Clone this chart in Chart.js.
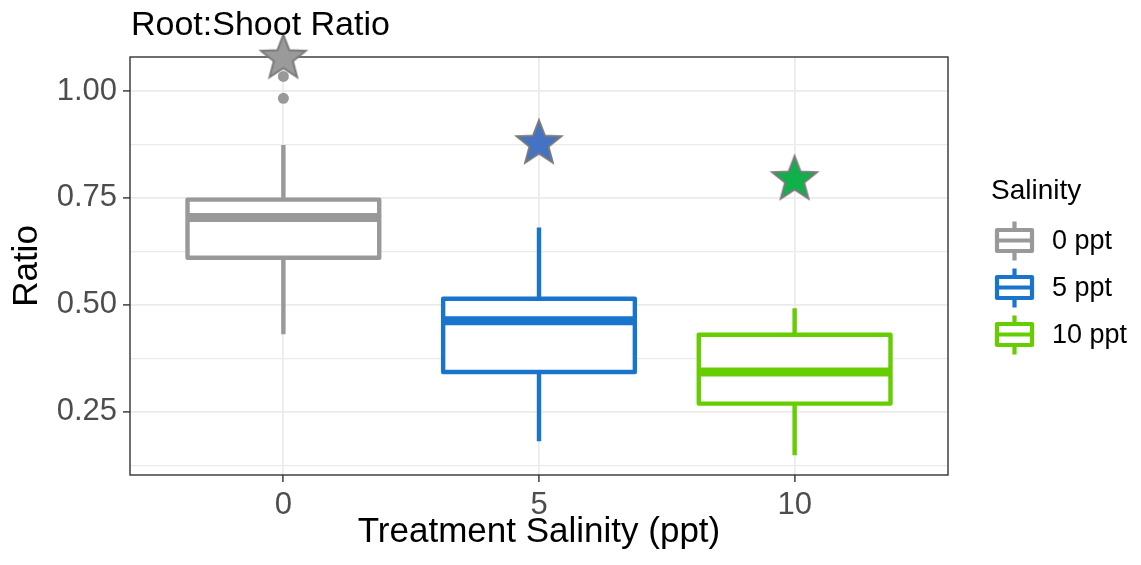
<!DOCTYPE html>
<html>
<head>
<meta charset="utf-8">
<script src="https://cdn.jsdelivr.net/npm/chart.js@4.4.1/dist/chart.umd.min.js"></script>
<style>
  html, body { margin: 0; padding: 0; background: #fff; }
  #wrap { width: 1141px; height: 565px; }
</style>
</head>
<body>
<div id="wrap"><canvas id="ratioChart" width="1141" height="565"></canvas></div>
<script>
// values
const salinityLevels = ['0', '5', '10'];
const legendLabels = ['0 ppt', '5 ppt', '10 ppt'];
const boxColors = ['#999999', '#1874CD', '#66CD00'];
const starColors = ['#9a9a9a', '#4472C4', '#10B04A'];

const whiskerLow = [0.431, 0.181, 0.148];
const lowerHinge = [0.610, 0.343, 0.269];
const medians = [0.704, 0.463, 0.343];
const upperHinge = [0.746, 0.514, 0.430];
const whiskerHigh = [0.874, 0.681, 0.492];
const outliers = [[0.983, 1.034], [], []];
const starValues = [1.078, 0.878, 0.794];

const yMajorTicks = [0.25, 0.5, 0.75, 1.0];
const yMinorTicks = [0.125, 0.375, 0.625, 0.875];

const FONT = '"Liberation Sans", Arial, sans-serif';

// star marker as an image so Chart.js can use it as a pointStyle
function makeStar(fill) {
    const c = document.createElement('canvas');
    c.width = 54;
    c.height = 54;
    const g = c.getContext('2d');
    const R = 23.5, r = 10, cx = 27, cy = 27.5;
    g.beginPath();
    for (let i = 0; i < 10; i++) {
        const rad = i % 2 === 0 ? R : r;
        const a = -Math.PI / 2 + i * Math.PI / 5;
        const px = cx + rad * Math.cos(a), py = cy + rad * Math.sin(a);
        if (i === 0) g.moveTo(px, py); else g.lineTo(px, py);
    }
    g.closePath();
    g.fillStyle = fill;
    g.fill();
    g.lineWidth = 2;
    g.strokeStyle = '#7a7a7a';
    g.stroke();
    return c;
}

// boxes + whiskers, drawn through the chart scales
const boxPlotPlugin = {
    id: 'boxPlot',
    beforeDatasetsDraw(chart) {
        const { ctx, chartArea, scales: { x, y } } = chart;
        ctx.save();
        // panel border
        ctx.strokeStyle = '#333333';
        ctx.lineWidth = 1.4;
        ctx.strokeRect(chartArea.left, chartArea.top, chartArea.right - chartArea.left, chartArea.bottom - chartArea.top);

        salinityLevels.forEach((lvl, i) => {
            const cx = x.getPixelForValue(i);
            const left = x.getPixelForValue(i - 0.375);
            const right = x.getPixelForValue(i + 0.375);
            const yLow = y.getPixelForValue(whiskerLow[i]);
            const yQ1 = y.getPixelForValue(lowerHinge[i]);
            const yMed = y.getPixelForValue(medians[i]);
            const yQ3 = y.getPixelForValue(upperHinge[i]);
            const yHigh = y.getPixelForValue(whiskerHigh[i]);

            ctx.strokeStyle = boxColors[i];
            ctx.lineCap = 'butt';
            ctx.lineWidth = 4.4;
            ctx.beginPath();
            ctx.moveTo(cx, yQ3); ctx.lineTo(cx, yHigh);
            ctx.moveTo(cx, yQ1); ctx.lineTo(cx, yLow);
            ctx.stroke();

            ctx.lineJoin = 'round';
            ctx.fillStyle = '#ffffff';
            ctx.fillRect(left, yQ3, right - left, yQ1 - yQ3);
            ctx.strokeRect(left, yQ3, right - left, yQ1 - yQ3);

            ctx.lineWidth = 9;
            ctx.beginPath();
            ctx.moveTo(left, yMed); ctx.lineTo(right, yMed);
            ctx.stroke();
        });
        ctx.restore();
    },
    afterDraw(chart) {
        const { ctx, chartArea } = chart;
        ctx.save();
        // plot title
        ctx.fillStyle = '#000000';
        ctx.textAlign = 'left';
        ctx.textBaseline = 'alphabetic';
        ctx.font = '34px ' + FONT;
        ctx.fillText('Root:Shoot Ratio', chartArea.left + 1, 35);

        // legend
        ctx.font = '28px ' + FONT;
        ctx.fillText('Salinity', 991, 199);
        legendLabels.forEach((lab, i) => {
            const cy = 240.5 + i * 47;
            const l = 997, r = 1032, cx = (l + r) / 2;
            ctx.strokeStyle = boxColors[i];
            ctx.lineWidth = 4.2;
            ctx.lineCap = 'butt';
            ctx.beginPath();
            ctx.moveTo(cx, cy - 19); ctx.lineTo(cx, cy - 10.5);
            ctx.moveTo(cx, cy + 10.5); ctx.lineTo(cx, cy + 20);
            ctx.stroke();
            ctx.lineJoin = 'round';
            ctx.strokeRect(l, cy - 10.5, r - l, 21);
            ctx.beginPath();
            ctx.moveTo(l, cy); ctx.lineTo(r, cy);
            ctx.stroke();
            ctx.fillStyle = '#000000';
            ctx.font = '27px ' + FONT;
            ctx.textBaseline = 'middle';
            ctx.fillText(lab, 1052, cy + 1);
        });
        ctx.restore();
    }
};

const outlierPoints = [];
outliers.forEach((vals, i) => vals.forEach(v => outlierPoints.push({ x: i, y: v })));

const ctx = document.getElementById('ratioChart').getContext('2d');
new Chart(ctx, {
    type: 'scatter',
    data: {
        datasets: [
            {
                label: 'outliers',
                data: outlierPoints,
                pointRadius: 5.5,
                pointBackgroundColor: boxColors[0],
                pointBorderWidth: 0,
                clip: false
            },
            {
                label: 'stars',
                data: starValues.map((v, i) => ({ x: i, y: v })),
                pointStyle: starColors.map(makeStar),
                clip: false
            }
        ]
    },
    options: {
        responsive: false,
        animation: false,
        layout: { padding: { top: 57, right: 193, bottom: 0, left: 0 } },
        plugins: {
            legend: { display: false },
            title: { display: false },
            tooltip: { enabled: false }
        },
        scales: {
            x: {
                type: 'linear',
                min: -0.6,
                max: 2.6,
                afterBuildTicks: (s) => { s.ticks = salinityLevels.map((_, i) => ({ value: i })); },
                afterFit: (s) => { s.height = 90; },
                ticks: {
                    callback: (v) => salinityLevels[v],
                    color: '#4D4D4D',
                    font: { size: 31, family: FONT },
                    padding: 5,
                    maxRotation: 0,
                    autoSkip: false
                },
                grid: { color: '#EBEBEB', lineWidth: 1.8, tickColor: '#333333', tickLength: 7, tickWidth: 1.4 },
                border: { display: false },
                title: {
                    display: true,
                    text: 'Treatment Salinity (ppt)',
                    color: '#000000',
                    font: { size: 35, family: FONT },
                    padding: { top: 0, bottom: 12 }
                }
            },
            y: {
                type: 'linear',
                min: 0.102,
                max: 1.0795,
                afterBuildTicks: (s) => {
                    s.ticks = yMinorTicks.concat(yMajorTicks).sort((a, b) => a - b).map(v => ({ value: v }));
                },
                afterFit: (s) => { s.width = 130; },
                ticks: {
                    callback: (v) => yMajorTicks.includes(v) ? v.toFixed(2) : '',
                    color: '#4D4D4D',
                    font: { size: 31, family: FONT },
                    padding: 6,
                    autoSkip: false
                },
                grid: {
                    color: '#EBEBEB',
                    lineWidth: (c) => yMajorTicks.includes(c.tick && c.tick.value) ? 1.8 : 1.2,
                    tickColor: (c) => yMajorTicks.includes(c.tick && c.tick.value) ? '#333333' : 'rgba(0,0,0,0)',
                    tickLength: 7,
                    tickWidth: 1.4
                },
                border: { display: false },
                title: {
                    display: true,
                    text: 'Ratio',
                    color: '#000000',
                    font: { size: 35, family: FONT },
                    padding: { top: 6, bottom: 0 }
                }
            }
        }
    },
    plugins: [boxPlotPlugin]
});
</script>
</body>
</html>
